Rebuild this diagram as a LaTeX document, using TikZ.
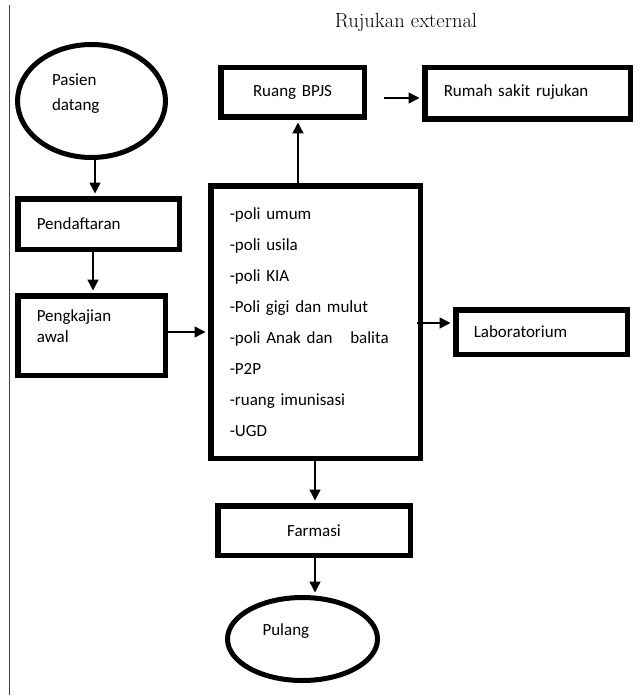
\documentclass[tikz,border=0pt]{standalone}
\usepackage{fontspec}
\newfontfamily\calfont{Carlito}
\usetikzlibrary{arrows.meta,shapes.geometric}

\begin{document}
\begin{tikzpicture}[x=1pt,y=-1pt,
    box/.style={draw, rectangle, line width=5.5pt, inner xsep=19pt, align=left, font=\calfont\fontsize{17}{21}\selectfont},
    oval/.style={draw, ellipse, line width=5pt, inner sep=0pt, align=left, font=\calfont\fontsize{17}{25}\selectfont},
    arr/.style={-{Triangle[length=11pt,width=11pt]}, line width=1.5pt, shorten >=2.5pt}]
  \useasboundingbox (0,0) rectangle (641,695);
  \draw[line width=0.8pt, black!75] (9,5) -- (9,695);
  \node[font=\fontsize{20.5}{24}\selectfont] (judul) at (406,22) {Rujukan external};
  \node[oval, minimum width=148pt, minimum height=113pt, text width=79pt, text depth=43pt] (pasien) at (91.5,101) {Pasien\\datang};
  \node[box, minimum height=50.5pt, text width=123.5pt] (daftar) at (98.5,224) {Pendaftaran};
  \node[box, minimum height=79.5pt, text width=109.5pt, text depth=40pt] (kaji) at (91.5,335.5) {Pengkajian\\awal};
  \node[box, minimum height=272.5pt, text width=171.5pt, font=\calfont\fontsize{17}{31}\selectfont] (poli) at (315.5,322)
    {-poli umum\\-poli usila\\-poli KIA\\-Poli gigi dan mulut\\-poli Anak dan\hspace{12pt} balita\\-P2P\\-ruang imunisasi\\-UGD};
  \node[box, minimum height=49.5pt, text width=105.5pt, align=center] (bpjs) at (292.5,92.5) {Ruang BPJS};
  \node[box, minimum height=51.5pt, text width=167.5pt, text depth=5pt] (rujukan) at (527.5,93.5) {Rumah sakit rujukan};
  \node[box, minimum height=44.5pt, text width=135.5pt, inner xsep=18pt] (lab) at (541.5,332) {Laboratorium};
  \node[box, minimum height=49.5pt, text width=154.5pt, align=center] (farmasi) at (314,530.5) {Farmasi};
  \node[oval, minimum width=150pt, minimum height=83pt, text width=80pt, text depth=19pt] (pulang) at (302.5,639) {Pulang};
  \foreach \source/\dest/\xval in {pasien/daftar/95, daftar/kaji/93, poli/farmasi/315, farmasi/pulang/315}
    \draw[arr] (\source.south -| \xval,0) -- (\dest.north -| \xval,0);
  \draw[arr] (poli.north -| 298,0) -- (bpjs.south -| 298,0);
  \draw[arr] (kaji.east |- 0,332) -- (poli.west |- 0,332);
  \draw[arr, shorten <=17pt] (bpjs.east |- 0,98) -- (rujukan.west |- 0,98);
  \draw[arr, shorten <=-6pt] (poli.east |- 0,323) -- (lab.west |- 0,323);
\end{tikzpicture}
\end{document}
